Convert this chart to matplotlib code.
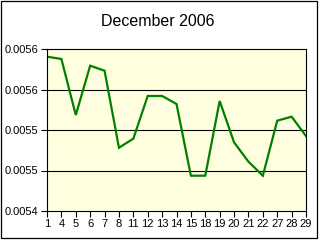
import matplotlib
matplotlib.use("Agg")
import matplotlib.pyplot as plt
from matplotlib.patches import Rectangle

days = ["1", "4", "5", "6", "7", "8", "11", "12", "13", "14", "15", "18", "19",
        "20", "21", "22", "27", "28", "29"]
values = [0.0055905, 0.0055877, 0.0055185, 0.0055794, 0.0055732, 0.0054781,
          0.0054893, 0.0055420, 0.0055420, 0.0055321, 0.0054436, 0.0054436,
          0.0055358, 0.0054848, 0.0054609, 0.0054436, 0.0055115, 0.0055164,
          0.0054926]
yticks = [0.0054, 0.00545, 0.0055, 0.00555, 0.0056]
ytick_labels = ["0.0054", "0.0055", "0.0055", "0.0056", "0.0056"]

plt.rcParams['font.family'] = ['Liberation Sans', 'DejaVu Sans']

fig = plt.figure(figsize=(3.2, 2.4), dpi=100)
fig.patch.set_facecolor("white")
fig.patches.append(Rectangle((0.5/320, 2.5/240), 316/320, 237/240, transform=fig.transFigure,
                             fill=False, edgecolor="black", linewidth=0.9))

ax = fig.add_axes([47/320, (240-211)/240, (306-47)/320, (211-49)/240])
ax.set_facecolor("#FFFFE0")
x = list(range(len(days)))
ax.plot(x, values, color="#008000", linewidth=1.6, solid_joinstyle="miter")
ax.set_xlim(0, len(days) - 1)
ax.set_ylim(0.0054, 0.0056)
ax.set_xticks(x)
ax.set_xticklabels(days)
ax.set_yticks(yticks)
ax.set_yticklabels(ytick_labels)
for yv in yticks[1:-1]:
    ax.axhline(yv, color="black", linewidth=0.8, zorder=1)
ax.tick_params(axis="both", direction="out", length=4, width=0.8, labelsize=8, pad=2,
               colors="black")
for s in ax.spines.values():
    s.set_linewidth(0.8)
    s.set_color("black")
fig.text(158/320, 1 - 21/240, "December 2006", fontsize=11.5, ha="center", va="center")

fig.savefig("out.png", dpi=100, facecolor="white")
